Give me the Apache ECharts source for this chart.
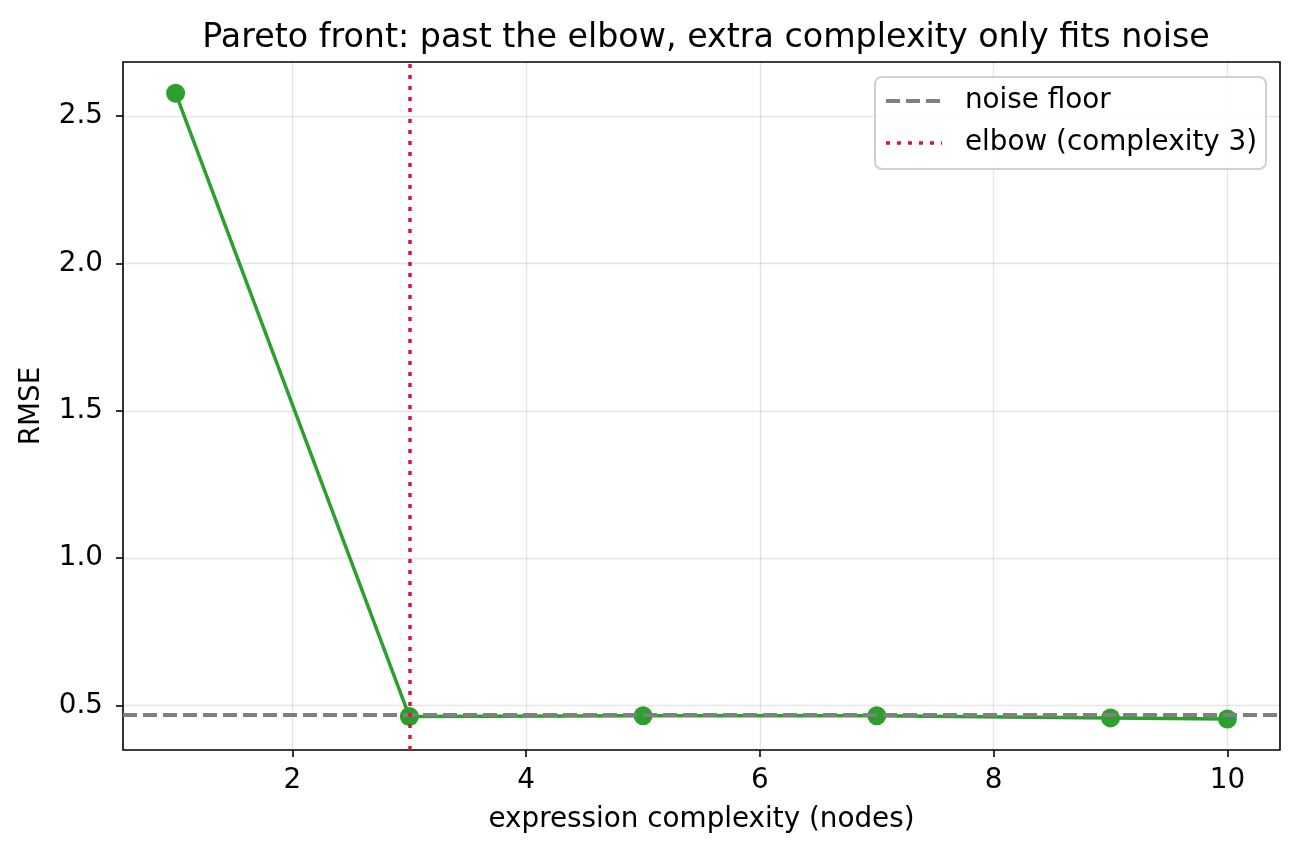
<!DOCTYPE html>
<html>
<head>
<meta charset="utf-8">
<script src="https://cdn.jsdelivr.net/npm/echarts@6/dist/echarts.min.js"></script>
<style>
  html, body { margin: 0; padding: 0; background: #fff; }
  #main { width: 1300px; height: 858px; }
</style>
</head>
<body>
<div id="main"></div>
<script>
// complexity vs rmse of the pareto front
var complexity = [1, 3, 5, 7, 9, 10];
var rmse = [2.578, 0.463, 0.465, 0.465, 0.458, 0.454];
var noiseFloor = 0.473;
var elbowX = 3;
var xTicks = [2, 4, 6, 8, 10];
var yTicks = [0.5, 1.0, 1.5, 2.0, 2.5];

var chart = echarts.init(document.getElementById('main'), null, { renderer: 'canvas' });
var font = 'DejaVu Sans';
var fs = 27.8;

var option = {
  backgroundColor: '#fff',
  animation: false,
  title: {
    text: 'Pareto front: past the elbow, extra complexity only fits noise',
    left: 701, top: 17, textAlign: 'center',
    textStyle: { fontFamily: font, fontSize: 33.3, fontWeight: 'normal', color: '#000' }
  },
  grid: {
    left: 123, right: 20, top: 62, bottom: 108,
    show: true, borderColor: '#000', borderWidth: 1.6, backgroundColor: 'transparent'
  },
  xAxis: {
    type: 'value',
    min: 0.55, max: 10.45,
    name: 'expression complexity (nodes)',
    nameLocation: 'middle', nameGap: 56,
    nameTextStyle: { fontFamily: font, fontSize: fs, color: '#000' },
    axisLine: { show: false },
    axisTick: { show: true, length: 7, customValues: xTicks, lineStyle: { color: '#000', width: 1.6 } },
    axisLabel: { customValues: xTicks, fontFamily: font, fontSize: fs, color: '#000', margin: 17 },
    splitLine: { show: true, lineStyle: { color: '#000', opacity: 0.1, width: 1.4 } }
  },
  yAxis: {
    type: 'value',
    min: 0.349, max: 2.684,
    name: 'RMSE',
    nameLocation: 'middle', nameGap: 77,
    nameTextStyle: { fontFamily: font, fontSize: fs, color: '#000' },
    axisLine: { show: false },
    axisTick: { show: true, length: 7, customValues: yTicks, lineStyle: { color: '#000', width: 1.6 } },
    axisLabel: {
      customValues: yTicks, fontFamily: font, fontSize: fs, color: '#000', margin: 20,
      formatter: function (v) { return v.toFixed(1); }
    },
    splitLine: { show: true, lineStyle: { color: '#000', opacity: 0.1, width: 1.4 } }
  },
  series: [
    {
      name: 'pareto',
      type: 'line',
      data: complexity.map(function (c, i) { return [c, rmse[i]]; }),
      symbol: 'circle',
      symbolSize: 19,
      lineStyle: { color: '#2ca02c', width: 3.5 },
      itemStyle: { color: '#2ca02c' },
      z: 3,
      markLine: {
        silent: true,
        symbol: 'none',
        label: { show: false },
        animation: false,
        data: [
          { yAxis: noiseFloor, lineStyle: { color: '#808080', type: [14, 6], width: 4 } },
          { xAxis: elbowX, lineStyle: { color: '#dc143c', type: [4, 7], width: 3.5 } }
        ]
      }
    }
  ],
  graphic: [
    {
      type: 'rect',
      shape: { x: 875, y: 77, width: 391, height: 92, r: 7 },
      style: { fill: 'rgba(255,255,255,0.85)', stroke: '#d0d0d0', lineWidth: 2 },
      z: 10
    },
    {
      type: 'line',
      shape: { x1: 886, y1: 101, x2: 942, y2: 101 },
      style: { stroke: '#808080', lineWidth: 4, lineDash: [14, 6] },
      z: 11
    },
    {
      type: 'text',
      style: { x: 965, y: 101, text: 'noise floor', font: fs + 'px "DejaVu Sans"', fill: '#000', textVerticalAlign: 'middle' },
      z: 11
    },
    {
      type: 'line',
      shape: { x1: 886, y1: 143, x2: 942, y2: 143 },
      style: { stroke: '#dc143c', lineWidth: 3.5, lineDash: [4, 7] },
      z: 11
    },
    {
      type: 'text',
      style: { x: 965, y: 143, text: 'elbow (complexity 3)', font: fs + 'px "DejaVu Sans"', fill: '#000', textVerticalAlign: 'middle' },
      z: 11
    }
  ]
};

chart.setOption(option);
</script>
</body>
</html>
